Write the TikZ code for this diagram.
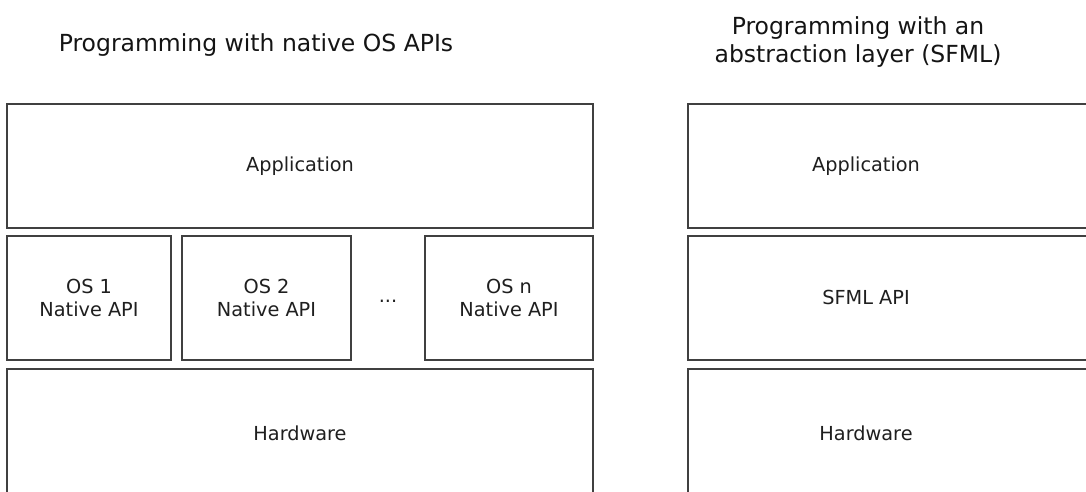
\documentclass[tikz,border=0pt]{standalone}
\usepackage{fontspec}
\setmainfont{DejaVu Sans}
\begin{document}
\begin{tikzpicture}[x=1pt,y=-1pt,
  layer/.style={draw=black!75, line width=1.6pt, fill=white, inner sep=0pt},
  lbl/.style={font=\fontsize{19.3}{23}\selectfont, text=black!88, align=center, inner sep=0pt},
  ttl/.style={font=\fontsize{23.5}{28}\selectfont, text=black!92, align=center, inner sep=0pt}]
\useasboundingbox (0,0) rectangle (1086,491);
\clip (0,0) rectangle (1086,491);
% titles
\node[ttl] (t1) at (256,45) {Programming with native OS APIs};
\node[ttl] (t2) at (858,42) {Programming with an\\abstraction layer (SFML)};
% left stack
\draw[layer] (7,104) rectangle (593,228) node[midway, lbl] (app1) {Application};
\draw[layer] (7,236) rectangle (171,360) node[midway, lbl] (os1) {OS 1\\Native API};
\draw[layer] (182,236) rectangle (351,360) node[midway, lbl] (os2) {OS 2\\Native API};
\node[lbl] (dots) at (388,301) {...};
\draw[layer] (425,236) rectangle (593,360) node[midway, lbl] (osn) {OS n\\Native API};
\draw[layer] (7,369) rectangle (593,510);
\node[lbl] (hw1) at (300,433) {Hardware};
% right stack
\draw[layer] (688,104) rectangle (1100,228);
\node[lbl] (app2) at (866,166) {Application};
\draw[layer] (688,236) rectangle (1100,360);
\node[lbl] (sfml) at (866,297) {SFML API};
\draw[layer] (688,369) rectangle (1100,510);
\node[lbl] (hw2) at (866,433) {Hardware};
\end{tikzpicture}
\end{document}
